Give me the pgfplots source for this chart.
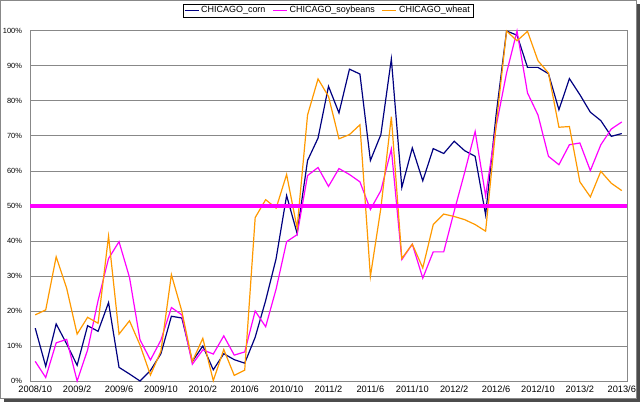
\documentclass[border=0pt]{standalone}
\usepackage{fontspec}
\setmainfont{Liberation Sans}
\usepackage{pgfplots}
\pgfplotsset{compat=1.18}
\usepackage{pgfplotstable}
\definecolor{corn}{HTML}{000080}
\definecolor{soy}{HTML}{FF00FF}
\definecolor{wheat}{HTML}{FF9900}
\definecolor{gridc}{HTML}{888888}
\pgfplotstableread{
i corn soy wheat
0 15.1 5.6 18.9
1 4.2 1.0 20.3
2 16.3 10.9 35.5
3 10.6 11.9 26.5
4 4.5 0.0 13.4
5 15.8 8.9 18.2
6 14.2 23.0 16.5
7 22.4 35.0 41.4
8 3.9 39.8 13.4
9 2.0 29.6 17.2
10 0.0 11.8 10.3
11 3.0 6.0 1.7
12 7.8 11.7 8.5
13 18.5 21.0 30.4
14 18.0 18.9 19.9
15 5.6 4.8 5.6
16 10.0 8.9 12.2
17 3.2 7.7 0.1
18 7.8 12.9 9.0
19 6.1 7.4 1.6
20 5.1 8.3 3.1
21 12.5 20.0 46.7
22 23.0 15.5 51.8
23 35.0 26.3 49.4
24 53.0 39.8 59.0
25 42.2 41.8 43.7
26 63.0 58.7 76.0
27 69.4 61.0 86.3
28 84.2 55.6 81.3
29 76.6 60.7 69.2
30 89.1 59.0 70.4
31 87.7 56.9 73.2
32 63.0 49.0 29.9
33 70.4 54.4 49.4
34 92.0 66.3 75.5
35 55.3 34.7 35.0
36 66.6 39.1 39.1
37 57.2 29.4 32.3
38 66.4 36.9 44.7
39 65.0 36.9 47.7
40 68.5 48.5 47.0
41 65.8 59.6 46.1
42 64.2 71.3 44.7
43 47.5 52.9 42.8
44 76.0 72.7 73.0
45 100.0 88.0 100.0
46 98.8 100.0 97.2
47 89.6 82.3 99.9
48 89.6 76.0 91.5
49 87.8 64.2 88.0
50 77.5 61.8 72.5
51 86.4 67.5 72.7
52 81.8 68.0 56.9
53 76.8 60.1 52.6
54 74.4 67.5 59.9
55 69.9 72.0 56.5
56 70.7 74.0 54.4
}\datatable
\begin{document}
\begin{tikzpicture}[x=1bp,y=1bp]
\useasboundingbox (0,0) rectangle (644,405);
\fill[black!70] (4,3) rectangle (640,6.5);
\fill[black!70] (636.5,3) rectangle (640,401);
\draw[gridc, line width=0.8bp] (0.4,6.5) rectangle (636.5,404.6);
\begin{axis}[
  at={(30bp,24bp)}, anchor=south west,
  scale only axis, width=597bp, height=350bp,
  xmin=-0.5, xmax=56.5, ymin=0, ymax=100,
  axis line style={gridc, line width=1bp},
  xtick={0,4,...,56},
  xticklabels={2008/10,2009/2,2009/6,2009/10,2010/2,2010/6,2010/10,2011/2,2011/6,2011/10,2012/2,2012/6,2012/10,2013/2,2013/6},
  major x tick style={draw=none},
  extra x ticks={-0.5,3.5,...,55.5},
  extra x tick labels={},
  extra x tick style={major tick length=3.5bp, tick align=outside, tick style={draw=gridc, line width=1bp}},
  xticklabel style={font=\fontsize{9.3}{10}\selectfont, yshift=-1bp},
  ytick={0,10,...,100},
  yticklabel={\pgfmathprintnumber{\tick}\%},
  /pgf/number format/assume math mode=true,
  yticklabel style={font=\fontsize{7.5}{8}\selectfont, xshift=-4.5bp},
  major y tick style={draw=none},
  ymajorgrids, grid style={gridc, line width=1bp},
  legend style={at={(0.499,1.0586)}, anchor=center, draw=black, line width=0.6bp,
    font=\fontsize{9}{10}\selectfont, inner sep=1bp, inner ysep=0.5bp,
    /tikz/every even column/.append style={column sep=5bp}},
  legend columns=3,
  legend image code/.code={\draw[#1, line width=1.2bp] (0bp,0bp) -- (14bp,0bp);},
  clip=false,
]
\addplot[corn, line width=1.2bp] table[x=i, y=corn] {\datatable};
\addlegendentry{CHICAGO\_corn}
\addplot[soy, line width=1.2bp] table[x=i, y=soy] {\datatable};
\addlegendentry{CHICAGO\_soybeans}
\addplot[wheat, line width=1.2bp] table[x=i, y=wheat] {\datatable};
\addlegendentry{CHICAGO\_wheat}
\addplot[soy, line width=4bp, forget plot] coordinates {(-0.5,50) (56.5,50)};
\end{axis}
\end{tikzpicture}
\end{document}
